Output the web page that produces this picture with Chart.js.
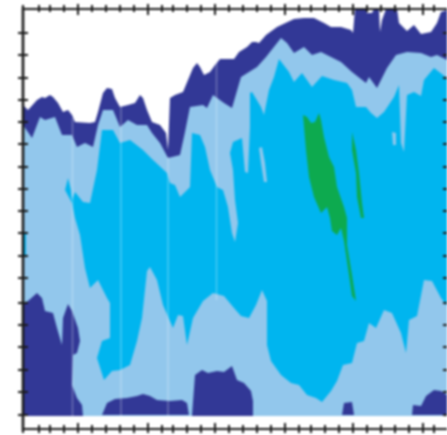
<!DOCTYPE html>
<html>
<head>
<meta charset="utf-8">
<style>
  html, body { margin: 0; padding: 0; background: #fff; }
  canvas { display: block; filter: blur(0.8px); }
</style>
<script src="https://cdn.jsdelivr.net/npm/chart.js@4"></script>
</head>
<body>
<canvas id="chart" width="447" height="435"></canvas>
<script>
// Axis ranges and tick positions
const xRange = [0, 424];
const yRange = [0, 420];
const xMinorTicks = [0, 16, 27, 41, 69, 83, 97, 111, 139, 150, 164, 178, 206, 220, 234, 248, 276, 288, 302, 316, 344, 358, 372, 386, 411];
const xMajorTicks = [55, 125, 192, 262, 330, 400];
const yTicks = [396, 374, 351, 329, 307, 285, 262, 240, 218, 196, 173, 151, 126, 104, 82, 59, 37, 14];

// Contour bands as [x, y] outlines
const outerBand = [[0,324],[5,319],[14,329],[19,332],[22,331],[27,334],[30,332],[35,326],[40,317],[45,319],[49,314],[52,307],[67,306],[72,307],[75,317],[80,336],[84,341],[89,340],[92,331],[97,322],[105,324],[112,326],[117,334],[120,331],[124,319],[129,307],[137,304],[143,296],[145,279],[147,331],[152,334],[160,337],[165,349],[170,361],[174,366],[177,362],[181,354],[187,357],[192,364],[197,370],[211,370],[216,377],[224,382],[229,387],[233,387],[236,386],[243,394],[254,402],[271,410],[281,411],[291,411],[301,406],[308,402],[318,402],[328,399],[330,396],[332,420],[343,420],[344,416],[349,416],[351,420],[356,420],[357,397],[359,409],[363,420],[374,420],[376,406],[384,398],[391,404],[398,395],[408,397],[414,406],[418,417],[424,419],[424,13],[0,13]];

const lightBand = [[0,304],[9,291],[17,312],[22,309],[32,312],[39,294],[49,294],[54,282],[62,286],[70,282],[75,304],[80,319],[90,319],[97,302],[105,309],[114,304],[124,304],[129,296],[137,286],[145,271],[157,274],[162,297],[167,322],[180,324],[184,321],[190,334],[201,326],[209,321],[218,352],[226,357],[234,362],[243,372],[258,391],[264,386],[271,376],[281,382],[289,374],[298,377],[308,372],[318,367],[329,357],[343,346],[346,352],[354,341],[364,361],[373,374],[384,377],[398,376],[408,372],[414,374],[424,369],[424,13],[0,13]];

const brightBand = [[42,239],[45,251],[48,239],[49,229],[52,237],[60,227],[67,226],[74,259],[79,299],[90,299],[97,286],[107,289],[120,279],[130,269],[144,256],[147,246],[152,244],[157,232],[167,242],[169,296],[177,294],[182,282],[187,259],[194,242],[200,239],[205,222],[209,196],[212,187],[215,206],[212,229],[210,259],[207,276],[210,287],[219,291],[222,257],[225,256],[227,302],[227,336],[229,337],[238,322],[241,314],[246,339],[251,352],[256,370],[266,357],[271,347],[279,356],[289,342],[299,353],[311,349],[324,346],[329,339],[333,322],[343,322],[348,316],[354,311],[361,317],[371,332],[376,344],[378,286],[381,277],[384,334],[391,337],[398,333],[401,349],[411,361],[424,351],[424,123],[418,131],[409,148],[401,149],[394,113],[386,109],[383,76],[378,96],[369,116],[361,119],[353,101],[346,106],[341,88],[334,86],[329,66],[320,64],[314,48],[308,38],[299,27],[293,31],[284,34],[276,44],[268,46],[258,54],[248,68],[244,84],[244,128],[239,139],[233,124],[226,111],[218,113],[211,121],[201,133],[190,136],[180,128],[170,111],[164,84],[160,113],[155,114],[150,101],[140,124],[134,149],[127,162],[124,158],[119,111],[114,88],[107,64],[97,59],[89,58],[81,49],[74,71],[79,88],[87,91],[87,126],[84,131],[75,149],[67,141],[62,161],[57,194],[52,211],[49,226]];
const brightEdgeSliver = [[0,196],[3,196],[3,174],[0,174]];

const lightIslandA = [[236,281],[239,282],[242,266],[244,247],[241,247],[238,266]];
const lightIslandB = [[369,297],[373,296],[373,284],[370,284]];

const greenCore = [[280,314],[284,312],[288,306],[292,307],[296,316],[298,309],[301,292],[306,272],[311,262],[314,242],[321,222],[324,211],[324,184],[329,154],[333,128],[329,133],[326,154],[321,188],[318,201],[314,194],[309,198],[307,211],[304,222],[298,216],[291,232],[286,252],[283,279]];
const greenStreak = [[329,297],[333,279],[336,256],[339,226],[341,211],[338,211],[334,232],[333,256],[329,279]];

const lowBlobA = [[0,126],[5,128],[14,136],[19,131],[22,118],[30,116],[34,101],[39,84],[40,111],[45,125],[49,118],[55,101],[57,88],[54,76],[50,74],[49,44],[54,31],[59,24],[60,13],[0,13]];
const lowBlobB = [[79,14],[84,26],[92,30],[104,31],[114,33],[120,35],[127,33],[134,29],[147,28],[159,29],[164,26],[166,14]];
const lowBlobC = [[169,14],[172,54],[179,59],[185,56],[194,58],[201,57],[209,63],[214,49],[221,46],[228,38],[230,28],[230,13],[169,13]];
const lowBlobD = [[319,14],[321,26],[329,27],[331,14]];
const lowBlobE = [[389,14],[390,24],[398,23],[403,33],[411,39],[418,38],[424,34],[424,14]];

// Pale vertical seams
const seamA = [[49.5,311],[49.5,13]];
const seamB = [[98,322],[98,13]];
const seamC = [[145,272],[145,13]];
const seamD = [[193.5,367],[193.5,129]];

const NAVY = "#323896";
const LIGHT = "#92c7ec";
const BRIGHT = "#00b5ef";
const GREEN = "#0daa4f";
const AXIS = "#1a1a1a";

function toPoints(pairs) {
  return pairs.map((p) => ({ x: p[0], y: p[1] }));
}

function band(pairs, color) {
  return {
    data: toPoints(pairs),
    showLine: true,
    fill: "shape",
    backgroundColor: color,
    borderWidth: 0,
    pointRadius: 0,
    tension: 0,
  };
}

function seam(pairs) {
  return {
    data: toPoints(pairs),
    showLine: true,
    fill: false,
    borderColor: "rgba(255, 255, 255, 0.28)",
    borderWidth: 1.5,
    pointRadius: 0,
  };
}

// Back to front
const layers = [
  band(outerBand, NAVY),
  band(lightBand, LIGHT),
  band(brightBand, BRIGHT),
  band(brightEdgeSliver, BRIGHT),
  band(lightIslandA, LIGHT),
  band(lightIslandB, LIGHT),
  band(greenCore, GREEN),
  band(greenStreak, GREEN),
  band(lowBlobA, NAVY),
  band(lowBlobB, NAVY),
  band(lowBlobC, NAVY),
  band(lowBlobD, NAVY),
  band(lowBlobE, NAVY),
  seam(seamA),
  seam(seamB),
  seam(seamC),
  seam(seamD),
];
layers.forEach((ds, i) => {
  ds.order = layers.length - i;
});

// Frame with ticks that cross the axis lines
const frame = {
  id: "frame",
  afterDatasetsDraw(chart) {
    const { ctx, chartArea: a, scales } = chart;
    const line = (x0, y0, x1, y1) => {
      ctx.beginPath();
      ctx.moveTo(x0, y0);
      ctx.lineTo(x1, y1);
      ctx.stroke();
    };
    ctx.save();
    ctx.strokeStyle = AXIS;
    ctx.lineWidth = 2;
    line(a.left - 1, a.top, a.right, a.top);
    line(a.left - 1, a.bottom, a.right, a.bottom);
    ctx.lineWidth = 2.6;
    line(a.left, a.top - 2, a.left, a.bottom + 2);
    ctx.lineWidth = 2;
    xMinorTicks.forEach((v) => {
      const x = scales.x.getPixelForValue(v);
      line(x, a.top - 4, x, a.top + 3);
      line(x, a.bottom - 4, x, a.bottom + 4);
    });
    xMajorTicks.forEach((v) => {
      const x = scales.x.getPixelForValue(v);
      line(x, a.top - 5, x, a.top + 6);
      line(x, a.bottom - 6, x, a.bottom + 4);
    });
    yTicks.forEach((v) => {
      const y = scales.y.getPixelForValue(v);
      line(a.left - 5, y, a.left + 5, y);
      line(a.right - 4, y, a.right, y);
    });
    ctx.restore();
  },
};

new Chart(document.getElementById("chart").getContext("2d"), {
  type: "scatter",
  data: { datasets: layers },
  plugins: [frame],
  options: {
    responsive: false,
    animation: false,
    layout: { padding: { left: 23, top: 9, right: 0, bottom: 6 } },
    plugins: { legend: { display: false }, tooltip: { enabled: false } },
    scales: {
      x: { type: "linear", min: xRange[0], max: xRange[1], display: false },
      y: { type: "linear", min: yRange[0], max: yRange[1], display: false },
    },
  },
});
</script>
</body>
</html>
